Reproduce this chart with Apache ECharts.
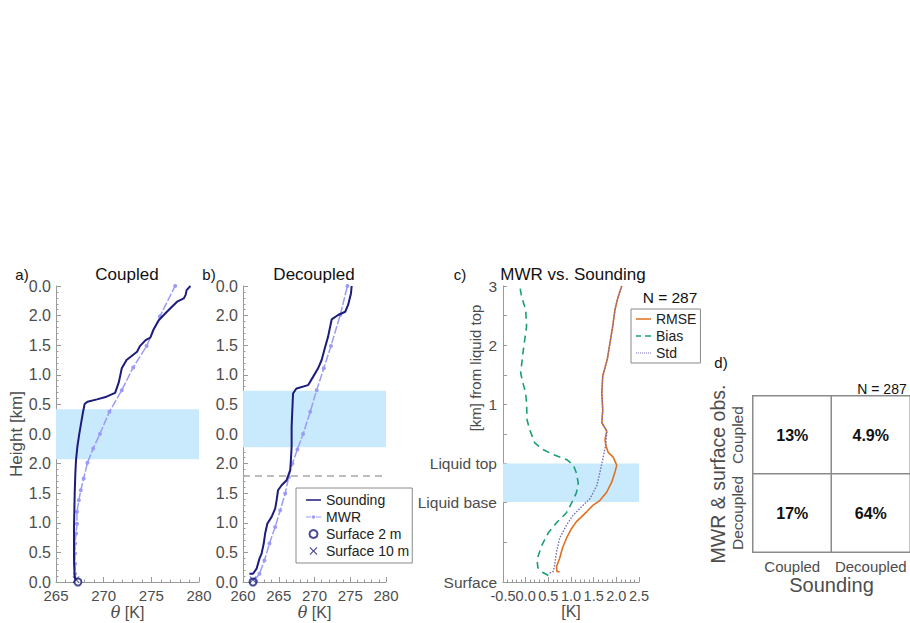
<!DOCTYPE html>
<html><head><meta charset="utf-8">
<script src="https://cdn.jsdelivr.net/npm/echarts@6/dist/echarts.min.js"></script>
<style>html,body{margin:0;padding:0;background:#fff}#c{width:910px;height:623px}</style>
</head><body><div id="c"></div>
<script>
// ---------- tick labels ----------
const heightTickLabels = ['0.0','0.5','1.0','1.5','2.0','0.0','0.5','1.0','1.5','2.0','0.0'];
const cTickValues = [-2, -0.65, 0, 1, 2, 3];
const cTickLabels = ['Surface', 'Liquid base', 'Liquid top', '1', '2', '3'];
const cMinorTickValues = [-2, -1.33, -0.65, 0, 0.5, 1, 1.5, 2, 2.5, 3];
const cXTickValues = [-0.5, 0, 0.5, 1, 1.5, 2, 2.5];

// ---------- panel a (Coupled) ----------
const aSoundTheta = [267.05,266.95,266.89,266.89,266.96,267.03,267.1,267.24,267.45,267.63,267.81,268.0,268.3,269.3,270.3,271.2,271.6,271.9,272.4,273.5,273.8,274.4,274.9,275.2,275.8,276.3,277.0,277.7,278.4,278.6,278.7,279.1];
const aSoundH     = [0.1,0.2,0.73,1.86,2.99,3.67,4.12,4.57,5.02,5.36,5.7,6.01,6.09,6.17,6.26,6.39,6.76,7.22,7.5,7.78,7.97,8.17,8.26,8.51,8.85,9.02,9.25,9.47,9.58,9.70,9.86,10.0];
const aMwrTheta = [267.1,267.0,267.0,267.0,267.0,267.1,267.2,267.2,267.4,267.6,267.9,268.3,268.9,269.6,270.6,271.9,273.1,274.5,275.9,277.5];
const aMwrH     = [0.05,0.28,0.62,0.96,1.30,1.64,1.97,2.37,2.76,3.1,3.5,4.03,4.51,5.0,5.75,6.48,7.25,7.97,8.98,10.0];
const aSurf2  = [267.3, 0.0];
const aSurf10 = [267.1, 0.08];
const aBand = [4.15, 5.84];

// ---------- panel b (Decoupled) ----------
const bSoundTheta = [260.9,261.4,261.9,262.3,262.6,262.9,263.1,263.4,264.0,264.5,264.7,264.9,265.4,266.1,266.6,266.7,266.8,266.8,266.9,267.0,267.3,267.5,269.1,269.8,270.5,271.0,271.5,271.9,272.4,273.3,274.3,274.7,275.1,275.2];
const bSoundH     = [0.28,0.28,0.45,0.79,0.96,1.30,1.64,1.97,2.2,2.48,2.76,3.1,3.27,3.44,3.78,4.12,4.57,5.24,5.81,6.37,6.48,6.54,6.65,6.93,7.22,7.5,7.95,8.29,8.87,9.02,9.13,9.36,9.75,10.0];
const bMwrTheta = [261.6,262.3,263.0,263.7,264.5,265.2,265.9,266.4,266.9,267.6,268.4,269.4,270.3,271.3,272.3,273.6,274.6];
const bMwrH     = [0.05,0.28,0.73,1.30,1.86,2.42,2.99,3.55,4.0,4.48,5.0,5.75,6.48,7.22,7.97,9.02,10.0];
const bSurf2  = [261.4, 0.0];
const bSurf10 = [261.4, 0.08];
const bBand = [4.55, 6.46];
const bDashed = 3.58;

// ---------- panel c (MWR vs. Sounding) ----------
const cBiasX = [0.50,0.38,0.27,0.25,0.35,0.50,0.68,0.90,1.05,1.12,1.16,1.12,1.05,0.90,0.61,0.38,0.20,0.09,0.03,0.02,0.0,-0.06,-0.11,-0.06,0.02,0.0,-0.09,-0.13];
const cBiasY = [-1.89,-1.84,-1.76,-1.62,-1.39,-1.17,-1.0,-0.83,-0.61,-0.49,-0.33,-0.16,-0.02,0.07,0.15,0.24,0.35,0.57,0.74,1.02,1.19,1.36,1.53,1.87,2.32,2.6,2.82,3.0];
const cRmseX = [0.75,0.69,0.68,0.75,0.81,0.90,1.01,1.12,1.35,1.49,1.64,1.79,1.90,1.97,2.01,1.93,1.82,1.77,1.75,1.79,1.68,1.70,1.68,1.70,1.80,1.86,1.92,1.97,2.04,2.12];
const cRmseY = [-1.83,-1.82,-1.74,-1.60,-1.43,-1.26,-1.10,-0.98,-0.81,-0.70,-0.62,-0.48,-0.31,-0.14,-0.03,0.11,0.19,0.30,0.41,0.55,0.69,0.91,1.19,1.48,1.76,2.04,2.32,2.6,2.82,3.0];
const cStdX = [0.53,0.61,0.64,0.68,0.75,0.90,1.05,1.27,1.42,1.57,1.64,1.70,1.77,1.79,1.68,1.70,1.68,1.70,1.80,1.86,1.92,1.97,2.04,2.12];
const cStdY = [-1.85,-1.82,-1.71,-1.49,-1.26,-1.04,-0.87,-0.70,-0.59,-0.37,-0.14,0.07,0.33,0.55,0.69,0.91,1.19,1.48,1.76,2.04,2.32,2.6,2.82,3.0];
const cBand = [-0.65, 0];
const cN = 'N = 287';

// ---------- panel d (contingency table) ----------
const dSoundingCats = ['Coupled', 'Decoupled'];
const dMwrCats = ['Decoupled', 'Coupled'];
const dPercent = [[0,1,'13'],[1,1,'4.9'],[0,0,'17'],[1,0,'64']];
const dN = 'N = 287';

// ---------- styling ----------
const FONT = 'Liberation Sans, Arial, Helvetica, sans-serif';
const NAVY = '#1c1c7c';
const MWR = '#9b9bf7';
const BAND = '#c9eafc';
const AXC = '#9a9a9a';
const LBL = '#4d4d4d';
const xPath = 'path://M1,0 L5,4 L9,0 L10,1 L6,5 L10,9 L9,10 L5,6 L1,10 L0,9 L4,5 L0,1 Z';
// legend icons (15 x 8 box, corner anchors keep the bounding box)
const ANCH = 'M0,0h0.01v0.01h-0.01z M15,8h-0.01v-0.01h0.01z ';
const iconSolid = 'path://' + ANCH + 'M0,3.3h15v1.4h-15z';
const iconMwr = 'path://' + ANCH + 'M0,3.4h5v1.2h-5z M10,3.4h5v1.2h-5z M7.5,2.3a1.7,1.7 0 1,0 0.01,0z';
const iconDash = 'path://' + ANCH + 'M0,3.3h5v1.4h-5z M9,3.3h6v1.4h-6z';
const iconDot = 'path://' + ANCH + 'M0,3.5h1v1h-1z M2,3.5h1v1h-1z M4,3.5h1v1h-1z M6,3.5h1v1h-1z M8,3.5h1v1h-1z M10,3.5h1v1h-1z M12,3.5h1v1h-1z M14,3.5h1v1h-1z';

function zip(a, b) { return a.map((v, i) => [v, b[i]]); }

function valAxisBase(extra) {
  return Object.assign({
    type: 'value',
    splitLine: { show: false },
    axisLine: { show: true, onZero: false, lineStyle: { color: AXC, width: 1 } },
    axisTick: { show: true, inside: true, length: 5, lineStyle: { color: AXC } },
    minorTick: { show: true, splitNumber: 5, length: 2.5, lineStyle: { color: AXC } },
    axisLabel: { color: LBL, fontSize: 15, fontFamily: FONT, margin: 6 },
    nameTextStyle: { color: LBL, fontSize: 16, fontFamily: FONT }
  }, extra);
}

function thetaX(gridIndex, min) {
  return valAxisBase({
    gridIndex, min, max: 280, interval: 5,
    name: '{i|θ} [K]', nameLocation: 'middle', nameGap: 22,
    nameTextStyle: { color: LBL, fontSize: 16, fontFamily: FONT, rich: { i: { fontStyle: 'italic', fontSize: 16, fontFamily: 'DejaVu Serif, serif', color: LBL } } }
  });
}
function heightY(gridIndex, withName) {
  return valAxisBase({
    gridIndex, min: 0, max: 10, interval: 1,
    name: withName ? 'Height [km]' : '', nameLocation: 'middle', nameGap: 30,
    nameTextStyle: { color: LBL, fontSize: 17, fontFamily: FONT },
    axisLabel: { color: LBL, fontSize: 16, fontFamily: FONT, margin: 5, formatter: v => heightTickLabels[Math.round(v)] }
  });
}

function profileSeries(idx, soundT, soundH, mwrT, mwrH, s2, s10, band, dashed) {
  const sound = {
    type: 'line', name: 'Sounding', xAxisIndex: idx, yAxisIndex: idx,
    data: zip(soundT, soundH), showSymbol: false, symbol: 'none',
    lineStyle: { color: NAVY, width: 2 }, itemStyle: { color: NAVY }, z: 4,
    markArea: { silent: true, itemStyle: { color: BAND }, data: [[{ yAxis: band[0] }, { yAxis: band[1] }]] }
  };
  if (dashed !== undefined) {
    sound.markLine = { silent: true, symbol: ['none', 'none'], label: { show: false },
      lineStyle: { color: '#a8a8a8', type: [7, 5], width: 1.5 }, data: [{ yAxis: dashed }] };
  }
  return [
    sound,
    { type: 'line', name: 'MWR', xAxisIndex: idx, yAxisIndex: idx, data: zip(mwrT, mwrH),
      symbol: 'circle', symbolSize: 4, showSymbol: true,
      lineStyle: { color: MWR, width: 1.5, type: [8, 2] }, itemStyle: { color: MWR }, z: 3 },
    { type: 'scatter', name: 'Surface 2 m', xAxisIndex: idx, yAxisIndex: idx, data: [s2],
      symbol: 'emptyCircle', symbolSize: 7, clip: false,
      itemStyle: { color: NAVY, borderColor: NAVY, borderWidth: 1.5 }, z: 5 },
    { type: 'scatter', name: 'Surface 10 m', xAxisIndex: idx, yAxisIndex: idx, data: [s10],
      symbol: xPath, symbolSize: 7, clip: false, itemStyle: { color: NAVY }, z: 5 }
  ];
}

const chart = echarts.init(document.getElementById('c'), null, { renderer: 'svg' });

const option = {
  animation: false,
  backgroundColor: '#ffffff',
  textStyle: { fontFamily: FONT },
  grid: [
    { left: 56, top: 286, width: 143, height: 296 },
    { left: 243, top: 286, width: 143, height: 296 },
    { left: 503, top: 286, width: 136, height: 296 },
    { left: 753, top: 396, width: 157, height: 156 }
  ],
  xAxis: [
    thetaX(0, 265),
    thetaX(1, 260),
    valAxisBase({
      gridIndex: 2, min: -0.5, max: 2.5, interval: 0.5,
      name: '[K]', nameLocation: 'middle', nameGap: 20,
      axisLabel: { color: LBL, fontSize: 14.5, fontFamily: FONT, margin: 6, showMinLabel: true, showMaxLabel: true,
        hideOverlap: false, customValues: cXTickValues, formatter: v => v.toFixed(1) }
    }),
    { type: 'category', gridIndex: 3, data: dSoundingCats,
      axisLine: { show: false }, axisTick: { show: false }, splitLine: { show: false },
      axisLabel: { color: LBL, fontSize: 15, fontFamily: FONT, margin: 7, interval: 0, hideOverlap: false },
      name: 'Sounding', nameLocation: 'middle', nameGap: 23,
      nameTextStyle: { color: LBL, fontSize: 20, fontFamily: FONT } }
  ],
  yAxis: [
    heightY(0, true),
    heightY(1, false),
    valAxisBase({
      gridIndex: 2, min: -2, max: 3,
      axisTick: { show: true, inside: true, length: 4, customValues: cMinorTickValues, lineStyle: { color: AXC } },
      minorTick: { show: false },
      axisLabel: { color: LBL, fontSize: 15.5, fontFamily: FONT, margin: 6, customValues: cTickValues,
        formatter: v => { const i = cTickValues.findIndex(t => Math.abs(t - v) < 1e-6); return i >= 0 ? cTickLabels[i] : ''; } }
    }),
    { type: 'category', gridIndex: 3, data: dMwrCats,
      axisLine: { show: false }, axisTick: { show: false }, splitLine: { show: false },
      axisLabel: { color: LBL, fontSize: 15.5, fontFamily: FONT, margin: 8, rotate: 90, interval: 0, hideOverlap: false },
      name: 'MWR & surface obs.', nameLocation: 'middle', nameGap: 22,
      nameTextStyle: { color: LBL, fontSize: 19.5, fontFamily: FONT } }
  ],
  visualMap: { show: false, seriesIndex: 11, min: 0, max: 100, dimension: 2, inRange: { color: ['#ffffff', '#ffffff'] } },
  legend: [
    { left: 296, top: 488, orient: 'vertical',
      data: [{ name: 'Sounding', icon: iconSolid }, { name: 'MWR', icon: iconMwr }, 'Surface 2 m', 'Surface 10 m'],
      borderColor: '#8a8a8a', borderWidth: 1, padding: [5, 3, 5, 10], itemGap: 3, itemWidth: 15, itemHeight: 8,
      textStyle: { fontSize: 14, color: '#222', fontFamily: FONT }, selectedMode: false },
    { left: 631, top: 309, orient: 'vertical',
      data: [{ name: 'RMSE', icon: iconSolid }, { name: 'Bias', icon: iconDash }, { name: 'Std', icon: iconDot }],
      borderColor: '#8a8a8a', borderWidth: 1, padding: [3, 4, 3, 5], itemGap: 3, itemWidth: 15, itemHeight: 8,
      textStyle: { fontSize: 14, color: '#222', fontFamily: FONT }, selectedMode: false }
  ],
  graphic: [
    { type: 'text', x: 22, y: 274, style: { text: 'a)', fontSize: 15, fontFamily: FONT, fill: '#111', align: 'center', verticalAlign: 'middle', textAlign: 'center', textVerticalAlign: 'middle' } },
    { type: 'text', x: 209, y: 274, style: { text: 'b)', fontSize: 15, fontFamily: FONT, fill: '#111', align: 'center', verticalAlign: 'middle', textAlign: 'center', textVerticalAlign: 'middle' } },
    { type: 'text', x: 460, y: 274, style: { text: 'c)', fontSize: 15, fontFamily: FONT, fill: '#111', align: 'center', verticalAlign: 'middle', textAlign: 'center', textVerticalAlign: 'middle' } },
    { type: 'text', x: 721, y: 362, style: { text: 'd)', fontSize: 15, fontFamily: FONT, fill: '#111', align: 'center', verticalAlign: 'middle', textAlign: 'center', textVerticalAlign: 'middle' } },
    { type: 'text', x: 127, y: 274, style: { text: 'Coupled', fontSize: 17, fontFamily: FONT, fill: '#111', align: 'center', verticalAlign: 'middle', textAlign: 'center', textVerticalAlign: 'middle' } },
    { type: 'text', x: 314, y: 274, style: { text: 'Decoupled', fontSize: 17, fontFamily: FONT, fill: '#111', align: 'center', verticalAlign: 'middle', textAlign: 'center', textVerticalAlign: 'middle' } },
    { type: 'text', x: 573, y: 274, style: { text: 'MWR vs. Sounding', fontSize: 17, fontFamily: FONT, fill: '#111', align: 'center', verticalAlign: 'middle', textAlign: 'center', textVerticalAlign: 'middle' } },
    { type: 'text', x: 670, y: 297, style: { text: cN, fontSize: 15.5, fontFamily: FONT, fill: '#111', align: 'center', verticalAlign: 'middle', textAlign: 'center', textVerticalAlign: 'middle' } },
    { type: 'text', x: 882, y: 389, style: { text: dN, fontSize: 14, fontFamily: FONT, fill: '#111', align: 'center', verticalAlign: 'middle', textAlign: 'center', textVerticalAlign: 'middle' } },
    { type: 'text', x: 475, y: 368, rotation: Math.PI / 2, style: { text: '[km] from liquid top', fontSize: 15, fontFamily: FONT, fill: LBL, align: 'center', verticalAlign: 'middle', textAlign: 'center', textVerticalAlign: 'middle' } }
  ],
  series: [
    ...profileSeries(0, aSoundTheta, aSoundH, aMwrTheta, aMwrH, aSurf2, aSurf10, aBand),
    ...profileSeries(1, bSoundTheta, bSoundH, bMwrTheta, bMwrH, bSurf2, bSurf10, bBand, bDashed),
    { type: 'line', name: 'RMSE', xAxisIndex: 2, yAxisIndex: 2, data: zip(cRmseX, cRmseY), showSymbol: false, symbol: 'none',
      lineStyle: { color: '#e0701e', width: 1.6 }, itemStyle: { color: '#e0701e' }, z: 3,
      markArea: { silent: true, itemStyle: { color: BAND }, data: [[{ yAxis: cBand[0] }, { yAxis: cBand[1] }]] } },
    { type: 'line', name: 'Bias', xAxisIndex: 2, yAxisIndex: 2, data: zip(cBiasX, cBiasY), showSymbol: false, symbol: 'none',
      lineStyle: { color: '#1b9e77', width: 1.6, type: [7, 5] }, itemStyle: { color: '#1b9e77' }, z: 3 },
    { type: 'line', name: 'Std', xAxisIndex: 2, yAxisIndex: 2, data: zip(cStdX, cStdY), showSymbol: false, symbol: 'none',
      lineStyle: { color: '#7570b3', width: 1.4, type: [1.5, 1.5] }, itemStyle: { color: '#7570b3' }, z: 4 },
    { type: 'heatmap', xAxisIndex: 3, yAxisIndex: 3, data: dPercent,
      itemStyle: { borderColor: '#8a8a8a', borderWidth: 1.5 },
      label: { show: true, formatter: p => p.value[2] + '%', fontSize: 16, fontWeight: 'bold', color: '#111', fontFamily: FONT } }
  ]
};
chart.setOption(option);
</script></body></html>
